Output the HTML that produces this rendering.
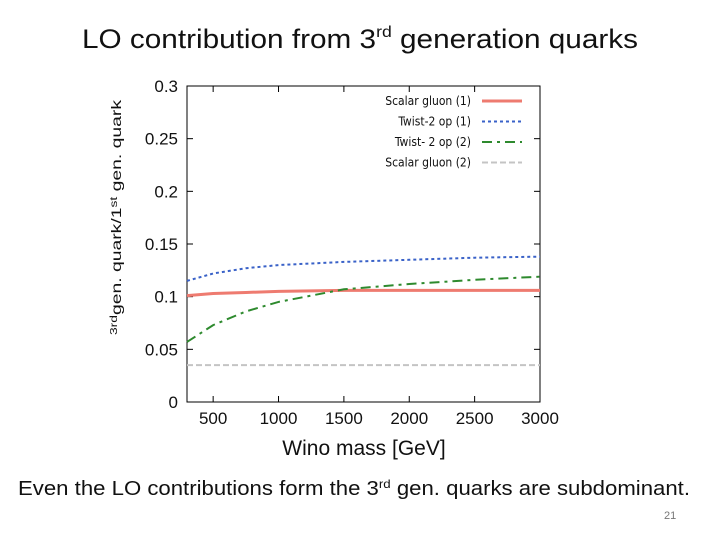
<!DOCTYPE html>
<html><head><meta charset="utf-8"><style>
body{margin:0;background:#fff;}
#c{position:relative;width:720px;height:540px;overflow:hidden;font-family:"Liberation Sans",sans-serif;}
.t{position:absolute;white-space:nowrap;}
</style></head><body>
<div id="c">
<svg width="720" height="540" style="position:absolute;left:0;top:0">
<text x="82" y="48" font-size="27" fill="#111" textLength="556" lengthAdjust="spacingAndGlyphs">LO contribution from 3<tspan font-size="16" dy="-11">rd</tspan><tspan dy="11"> generation quarks</tspan></text>
<text x="18" y="495" font-size="20" fill="#111" textLength="672" lengthAdjust="spacingAndGlyphs">Even the LO contributions form the 3<tspan font-size="12" dy="-7">rd</tspan><tspan dy="7"> gen. quarks are subdominant.</tspan></text>
<text x="664" y="519" font-size="11" fill="#777">21</text>
</svg>
<svg id="s" width="720" height="540" style="position:absolute;left:0;top:0"></svg>
</div>
<script>
const xs=[300,500,750,1000,1500,2000,2500,3000];
const scalar1=[0.101,0.103,0.104,0.105,0.106,0.106,0.106,0.106];
const twist1=[0.115,0.122,0.127,0.130,0.133,0.135,0.137,0.138];
const twist2=[0.057,0.073,0.086,0.095,0.107,0.112,0.116,0.119];
const scalar2=[0.035,0.035,0.035,0.035,0.035,0.035,0.035,0.035];
const xTicks=[500,1000,1500,2000,2500,3000];
const yTicks=[0,0.05,0.1,0.15,0.2,0.25,0.3];
const yLabels=["0","0.05","0.1","0.15","0.2","0.25","0.3"];
const L=187,R=540,T=86,B=402,X0=300,X1=3000,Y0=0,Y1=0.3;
const sx=v=>L+(v-X0)/(X1-X0)*(R-L), sy=v=>B-(v-Y0)/(Y1-Y0)*(B-T);
const s=document.getElementById('s');const NS='http://www.w3.org/2000/svg';
function mk(t,a,p){const e=document.createElementNS(NS,t);for(const k in a)e.setAttribute(k,a[k]);(p||s).appendChild(e);return e;}
let f=mk('rect',{x:L,y:T,width:R-L,height:B-T,fill:'none',stroke:'#000','stroke-width':1});


xTicks.forEach(v=>{const x=sx(v);
 let a=mk('line',{x1:x,x2:x,y1:B,y2:B-6,stroke:'#000'});
 let b=mk('line',{x1:x,x2:x,y1:T,y2:T+6,stroke:'#000'});
 let t=mk('text',{x:x,y:424,'text-anchor':'middle','font-size':17,fill:'#111'});t.textContent=v;});
yTicks.forEach((v,i)=>{const y=sy(v);
 let a=mk('line',{x1:L,x2:L+6,y1:y,y2:y,stroke:'#000'});
 let b=mk('line',{x1:R,x2:R-6,y1:y,y2:y,stroke:'#000'});
 let t=mk('text',{x:178,y:y+6,'text-anchor':'end','font-size':17,fill:'#111'});t.textContent=yLabels[i];});
let xt=mk('text',{x:364,y:455,'text-anchor':'middle','font-size':21,fill:'#111'});xt.textContent='Wino mass [GeV]';


let yt=mk('text',{x:-335,y:0,'font-size':14,fill:'#111',transform:'translate(121,0) rotate(-90)',textLength:235,lengthAdjust:'spacingAndGlyphs'});
yt.innerHTML='<tspan font-size="10" dy="-4">3rd</tspan><tspan dy="4">gen. quark/1</tspan><tspan font-size="10" dy="-4">st</tspan><tspan dy="4"> gen. quark</tspan>';


const series=[
 {n:'scalar-gluon-1',d:scalar1,c:'#ee7b70',w:3,da:'',lab:'Scalar gluon (1)'},
 {n:'twist2-op-1',d:twist1,c:'#3a62c8',w:2,da:'3,3',lab:'Twist-2 op (1)'},
 {n:'twist2-op-2',d:twist2,c:'#2e8a2e',w:2,da:'10,5,3,5',lab:'Twist- 2 op (2)'},
 {n:'scalar-gluon-2',d:scalar2,c:'#c4c4c4',w:2,da:'6,3',lab:'Scalar gluon (2)'}];
series.forEach((se,i)=>{
 const pts=se.d.map((v,j)=>sx(xs[j])+','+sy(v)).join(' ');
 let p=mk('polyline',{points:pts,fill:'none',stroke:se.c,'stroke-width':se.w,'stroke-dasharray':se.da});
 
 
 const ly=101+i*20.5;
 let t=mk('text',{x:471,y:ly+4,'text-anchor':'end','font-size':12,fill:'#111','font-family':'DejaVu Sans Condensed, Liberation Sans Narrow, sans-serif'});t.textContent=se.lab;
 
 
 let l=mk('line',{x1:482,x2:522,y1:ly,y2:ly,stroke:se.c,'stroke-width':se.w,'stroke-dasharray':se.da});
 
 
});
</script>
</body></html>
